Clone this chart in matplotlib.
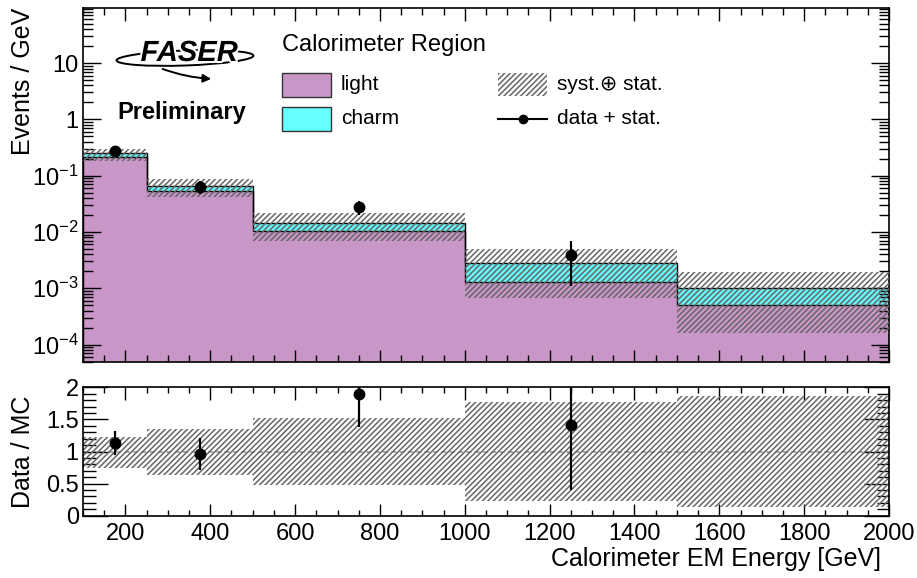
import numpy as np
import matplotlib
matplotlib.use("Agg")
import matplotlib.pyplot as plt
from matplotlib.ticker import FixedLocator, FixedFormatter, LogLocator, NullFormatter, MultipleLocator
from matplotlib.patches import Rectangle, Ellipse
import matplotlib.patheffects as pe

plt.rcParams['font.family'] = ['Liberation Sans', 'DejaVu Sans']
plt.rcParams['mathtext.fontset'] = 'custom'
plt.rcParams['mathtext.rm'] = 'Liberation Sans'
plt.rcParams['mathtext.it'] = 'Liberation Sans:italic'
plt.rcParams['mathtext.bf'] = 'Liberation Sans:bold'
plt.rcParams['hatch.linewidth'] = 1.1

# ---------------- data ----------------
edges = [100, 250, 500, 1000, 1500, 2000]
light = [0.211, 0.0526, 0.01037, 0.0013, 0.0005]
charm = [0.038, 0.0119, 0.0042, 0.00147, 0.00053]
band_up = [0.293, 0.088, 0.0219, 0.0049, 0.00196]
band_down = [0.184, 0.0423, 0.00698, 0.00066, 0.000158]

data_x = [175, 375, 750, 1250]
data_y = [0.274, 0.0628, 0.0274, 0.0039]
data_err_lo = [0.044, 0.016, 0.0074, 0.0028]
data_err_hi = [0.044, 0.016, 0.0076, 0.0029]

ratio_y = [1.137, 0.96, 1.89, 1.413]
ratio_err_lo = [0.19, 0.25, 0.515, 1.01]
ratio_err_hi = [0.19, 0.25, 0.53, 1.02]
ratio_band_up = [1.23, 1.346, 1.517, 1.766, 1.865]
ratio_band_down = [0.748, 0.64, 0.478, 0.234, 0.14]

log_ticks = [1e-4, 1e-3, 1e-2, 1e-1, 1, 10]
log_labels = [r'$10^{-4}$', r'$10^{-3}$', r'$10^{-2}$', r'$10^{-1}$', '1', '10']

PINK = '#C996C8'
CYAN = '#66FFFF'
HATCH_C = '#666666'
HATCH = '//////'

W, H = 917, 578
fig = plt.figure(figsize=(W / 100, H / 100), dpi=100)

def ax_rect(l, t, r, b):
    return [l / W, 1 - b / H, (r - l) / W, (b - t) / H]

ax = fig.add_axes(ax_rect(83, 8, 889, 362))
rax = fig.add_axes(ax_rect(83, 387.3, 889, 515.7))

edges_a = np.array(edges, dtype=float)
widths = np.diff(edges_a)
light_a = np.array(light)
total_a = light_a + np.array(charm)

# ---------------- top panel ----------------
base = 1e-7
ax.stairs(light_a, edges_a, baseline=base, fill=True, color=PINK, zorder=1)
ax.stairs(total_a, edges_a, baseline=light_a, fill=True, color=CYAN, zorder=1)
ax.stairs(light_a, edges_a, baseline=base, color='black', lw=1.0, zorder=2)
ax.stairs(total_a, edges_a, baseline=None, color='black', lw=1.0, zorder=2)
bu = np.array(band_up); bd = np.array(band_down)
ax.bar(edges_a[:-1], bu - bd, width=widths, bottom=bd, align='edge',
       facecolor='none', edgecolor=HATCH_C, hatch=HATCH, linewidth=0, zorder=3)
ax.errorbar(data_x, data_y, yerr=[data_err_lo, data_err_hi], fmt='o', color='black',
            ms=7.5, elinewidth=1.6, capsize=0, zorder=5)

ax.set_yscale('log')
ax.set_xlim(100, 2000)
ax.set_ylim(4.9e-5, 95)
ax.yaxis.set_major_locator(FixedLocator(log_ticks))
ax.yaxis.set_major_formatter(FixedFormatter(log_labels))
ax.yaxis.set_minor_locator(LogLocator(base=10, subs=np.arange(2, 10), numticks=30))
ax.yaxis.set_minor_formatter(NullFormatter())
ax.xaxis.set_major_locator(MultipleLocator(200))
ax.xaxis.set_minor_locator(MultipleLocator(50))
ax.tick_params(axis='both', which='both', direction='in', top=True, right=True, labelsize=17, pad=3)
ax.tick_params(axis='x', which='major', length=9, width=1)
ax.tick_params(axis='x', which='minor', length=5, width=1)
ax.tick_params(axis='y', which='major', length=13, width=1)
ax.tick_params(axis='y', which='minor', length=7, width=1)
ax.tick_params(axis='x', labelbottom=False)
ax.set_ylabel('Events / GeV', fontsize=18, loc='top')
ax.yaxis.set_label_coords(-0.060, 1.0)
for s in ax.spines.values():
    s.set_linewidth(1.2)

# ---------------- ratio panel ----------------
rbu = np.array(ratio_band_up); rbd = np.array(ratio_band_down)
rax.bar(edges_a[:-1], rbu - rbd, width=widths, bottom=rbd, align='edge',
        facecolor='none', edgecolor=HATCH_C, hatch=HATCH, linewidth=0, zorder=2)
rax.axhline(1.0, color='#999999', lw=1.2, ls=(0, (3, 2)), zorder=1)
rax.errorbar(data_x, ratio_y, yerr=[ratio_err_lo, ratio_err_hi], fmt='o', color='black',
             ms=7.5, elinewidth=1.6, capsize=0, zorder=5, clip_on=True)
rax.set_xlim(100, 2000)
rax.set_ylim(0, 2)
rax.xaxis.set_major_locator(MultipleLocator(200))
rax.xaxis.set_minor_locator(MultipleLocator(50))
rax.yaxis.set_major_locator(FixedLocator([0, 0.5, 1, 1.5, 2]))
rax.yaxis.set_major_formatter(FixedFormatter(['0', '0.5', '1', '1.5', '2']))
rax.yaxis.set_minor_locator(MultipleLocator(0.1))
rax.tick_params(axis='both', which='both', direction='in', top=True, right=True, labelsize=17)
rax.tick_params(axis='x', which='major', length=9, width=1, pad=5)
rax.tick_params(axis='x', which='minor', length=4.5, width=1)
rax.tick_params(axis='y', which='major', length=18, width=1, pad=3)
rax.tick_params(axis='y', which='minor', length=9, width=1)
rax.set_ylabel('Data / MC', fontsize=18)
rax.yaxis.set_label_coords(-0.060, 0.5)
rax.set_xlabel('Calorimeter EM Energy [GeV]', fontsize=18, loc='right')
rax.xaxis.set_label_coords(0.990, -0.24)
for s in rax.spines.values():
    s.set_linewidth(1.2)

# ---------------- overlay (legend + logo) in pixel coords ----------------
ov = fig.add_axes([0, 0, 1, 1], facecolor='none')
ov.set_xlim(0, W)
ov.set_ylim(H, 0)
ov.axis('off')

ov.text(282, 45, 'Calorimeter Region', fontsize=17, ha='left', va='center')
ov.add_patch(Rectangle((282, 72.5), 49, 24, facecolor=PINK, edgecolor='#333333', lw=1))
ov.text(341, 85, 'light', fontsize=15, ha='left', va='center')
ov.add_patch(Rectangle((282, 107), 49, 24, facecolor=CYAN, edgecolor='#333333', lw=1))
ov.text(341, 119, 'charm', fontsize=15, ha='left', va='center')
ov.add_patch(Rectangle((498, 72.5), 49, 23, facecolor='none', edgecolor=HATCH_C, hatch=HATCH, lw=0))
ov.text(557, 85, 'syst.\u2295 stat.', fontsize=15, ha='left', va='center',
        family=['Liberation Sans', 'DejaVu Sans'])
ov.plot([498, 547], [119, 119], color='black', lw=1.5)
ov.plot([522.5], [119], 'o', color='black', ms=6)
ov.text(557, 119, 'data + stat.', fontsize=15, ha='left', va='center')

# FASER logo
ov.add_patch(Ellipse((185, 58), 137, 15, angle=-2, facecolor='none', edgecolor='black', lw=1.4))
ov.annotate('', xy=(214, 79), xytext=(160, 68),
            arrowprops=dict(arrowstyle='-|>', color='black', lw=1.4, mutation_scale=12,
                            connectionstyle='arc3,rad=0.08'))
ov.text(189, 53, 'FASER', fontsize=21, fontweight='bold', fontstyle='italic',
        ha='center', va='center',
        path_effects=[pe.withStroke(linewidth=3, foreground='white')])
ov.text(117, 113, 'Preliminary', fontsize=17, fontweight='bold', ha='left', va='center')

fig.savefig('out.png', dpi=100)
